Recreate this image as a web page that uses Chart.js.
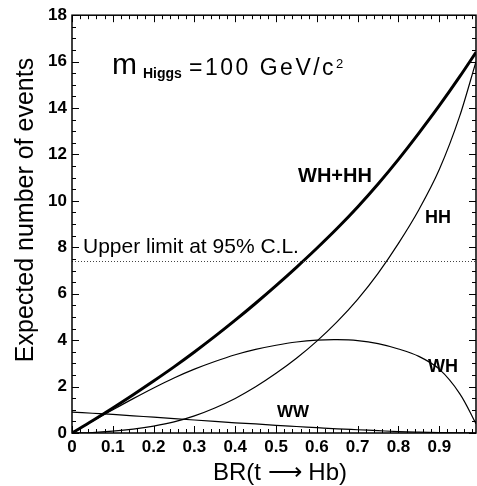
<!DOCTYPE html>
<html>
<head>
<meta charset="utf-8">
<script src="https://cdn.jsdelivr.net/npm/chart.js@4/dist/chart.umd.min.js"></script>
<style>
  html, body { margin: 0; padding: 0; background: #fff; }
  #wrap { width: 477px; height: 486px; }
</style>
</head>
<body>
<div id="wrap"><canvas id="evChart" width="477" height="486"></canvas></div>
<script>
// Branching ratio BR(t -> Hb) sample points
var brValues    = [0, 0.05, 0.1, 0.15, 0.2, 0.25, 0.3, 0.35, 0.4, 0.45, 0.5, 0.55, 0.6, 0.65, 0.7, 0.75, 0.8, 0.85, 0.9, 0.95, 0.99];
// Expected number of events per channel
var wwEvents    = [0.9, 0.85, 0.8, 0.74, 0.68, 0.62, 0.56, 0.5, 0.44, 0.39, 0.33, 0.28, 0.23, 0.18, 0.14, 0.1, 0.06, 0.035, 0.015, 0.005, 0];
var whEvents    = [0, 0.51, 1.0, 1.48, 1.94, 2.37, 2.75, 3.08, 3.37, 3.6, 3.78, 3.92, 4.0, 4.02, 3.98, 3.85, 3.62, 3.3, 2.75, 1.7, 0.4];
var hhEvents    = [0, 0.02, 0.08, 0.17, 0.3, 0.48, 0.74, 1.08, 1.49, 1.99, 2.57, 3.22, 3.96, 4.8, 5.76, 6.88, 8.17, 9.62, 11.35, 13.65, 16.0];
var totalEvents = [0, 0.53, 1.08, 1.65, 2.24, 2.85, 3.49, 4.16, 4.86, 5.59, 6.35, 7.14, 7.96, 8.82, 9.74, 10.73, 11.79, 12.92, 14.1, 15.35, 16.4];
var upperLimit  = 7.4;

var FONT = '"Liberation Sans", Arial, Helvetica, sans-serif';

function toPoints(ys) {
  return brValues.map(function(x, i) { return { x: x, y: ys[i] }; });
}

function lineSet(label, ys, width, smooth) {
  var ds = {
    label: label,
    data: toPoints(ys),
    borderColor: '#000',
    borderWidth: width,
    pointRadius: 0,
    fill: false
  };
  if (smooth === 'monotone') ds.cubicInterpolationMode = 'monotone';
  else ds.tension = smooth;
  return ds;
}

// Frame with inward ticks on all four sides, limit line, labels and axis titles
var framePlugin = {
  id: 'frame',
  afterDatasetsDraw: function(chart) {
    var ctx = chart.ctx;
    var a = chart.chartArea;
    var xs = chart.scales.x, ys = chart.scales.y;
    ctx.save();

    // 95% C.L. upper limit
    var yl = Math.round(ys.getPixelForValue(upperLimit)) + 0.5;
    ctx.strokeStyle = '#444';
    ctx.lineWidth = 1;
    ctx.setLineDash([1, 2]);
    ctx.beginPath();
    ctx.moveTo(a.left, yl);
    ctx.lineTo(a.right, yl);
    ctx.stroke();
    ctx.setLineDash([]);

    ctx.strokeStyle = '#000';
    ctx.lineWidth = 1.5;
    ctx.strokeRect(a.left, a.top, a.right - a.left, a.bottom - a.top);

    ctx.lineWidth = 1;
    ctx.beginPath();
    var i, v, p, len;
    for (i = 0; i <= 49; i++) {
      v = i * 0.02;
      p = Math.round(xs.getPixelForValue(v)) + 0.5;
      len = (i % 5 === 0) ? 7 : 4;
      ctx.moveTo(p, a.bottom); ctx.lineTo(p, a.bottom - len);
      ctx.moveTo(p, a.top); ctx.lineTo(p, a.top + len);
    }
    for (i = 0; i <= 36; i++) {
      v = i * 0.5;
      p = Math.round(ys.getPixelForValue(v)) + 0.5;
      len = (i % 4 === 0) ? 7 : 4;
      ctx.moveTo(a.left, p); ctx.lineTo(a.left + len, p);
      ctx.moveTo(a.right, p); ctx.lineTo(a.right - len, p);
    }
    ctx.stroke();

    ctx.fillStyle = '#000';
    ctx.textBaseline = 'alphabetic';
    ctx.textAlign = 'left';

    // m_Higgs = 100 GeV/c^2
    ctx.font = '30px ' + FONT;
    ctx.fillText('m', 112, 74);
    ctx.font = 'bold 14px ' + FONT;
    ctx.fillText('Higgs', 143, 78);
    ctx.font = '23px ' + FONT;
    ctx.letterSpacing = '2.5px';
    ctx.fillText('=100 GeV/c', 189, 75);
    var w = ctx.measureText('=100 GeV/c').width;
    ctx.letterSpacing = '0px';
    ctx.font = '13px ' + FONT;
    ctx.fillText('2', 189 + w, 68);

    ctx.font = '21px ' + FONT;
    ctx.fillText('Upper limit at 95% C.L.', 83, 253);

    ctx.font = 'bold 20px ' + FONT;
    ctx.fillText('WH+HH', 298, 182);
    ctx.font = 'bold 18px ' + FONT;
    ctx.fillText('HH', 425, 223);
    ctx.fillText('WH', 428, 372);
    ctx.font = 'bold 17px ' + FONT;
    ctx.fillText('WW', 277, 417);

    // axis titles
    ctx.textAlign = 'center';
    ctx.font = '24px ' + FONT;
    ctx.fillText('BR(t \u27F6 Hb)', 280, 480);

    ctx.translate(33, 210);
    ctx.rotate(-Math.PI / 2);
    ctx.font = '25px ' + FONT;
    ctx.fillText('Expected number of events', 0, 0);
    ctx.restore();
  }
};

new Chart(document.getElementById('evChart'), {
  type: 'line',
  data: {
    datasets: [
      lineSet('WW', wwEvents, 1.2, 'monotone'),
      lineSet('WH', whEvents, 1.2, 0.35),
      lineSet('HH', hhEvents, 1.2, 'monotone'),
      lineSet('WH+HH', totalEvents, 3, 'monotone')
    ]
  },
  options: {
    responsive: false,
    animation: false,
    devicePixelRatio: 1,
    layout: { padding: { top: 12, right: 1, left: 0, bottom: 0 } },
    plugins: {
      legend: { display: false },
      tooltip: { enabled: false }
    },
    scales: {
      x: {
        type: 'linear',
        min: 0,
        max: 0.99,
        grid: { display: false, drawTicks: false, tickLength: 0 },
        border: { display: false },
        afterFit: function(scale) { scale.height = 53; },
        ticks: {
          stepSize: 0.1,
          includeBounds: false,
          autoSkip: false,
          maxRotation: 0,
          padding: 4,
          color: '#000',
          font: { family: FONT, size: 17, weight: 'bold' },
          callback: function(v) { return v === 0 ? '0' : v.toFixed(1); }
        }
      },
      y: {
        min: 0,
        max: 18,
        grid: { display: false, drawTicks: false, tickLength: 0 },
        border: { display: false },
        afterFit: function(scale) { scale.width = 72; },
        ticks: {
          stepSize: 2,
          padding: 5,
          color: '#000',
          font: { family: FONT, size: 17, weight: 'bold' }
        }
      }
    }
  },
  plugins: [framePlugin]
});
</script>
</body>
</html>
